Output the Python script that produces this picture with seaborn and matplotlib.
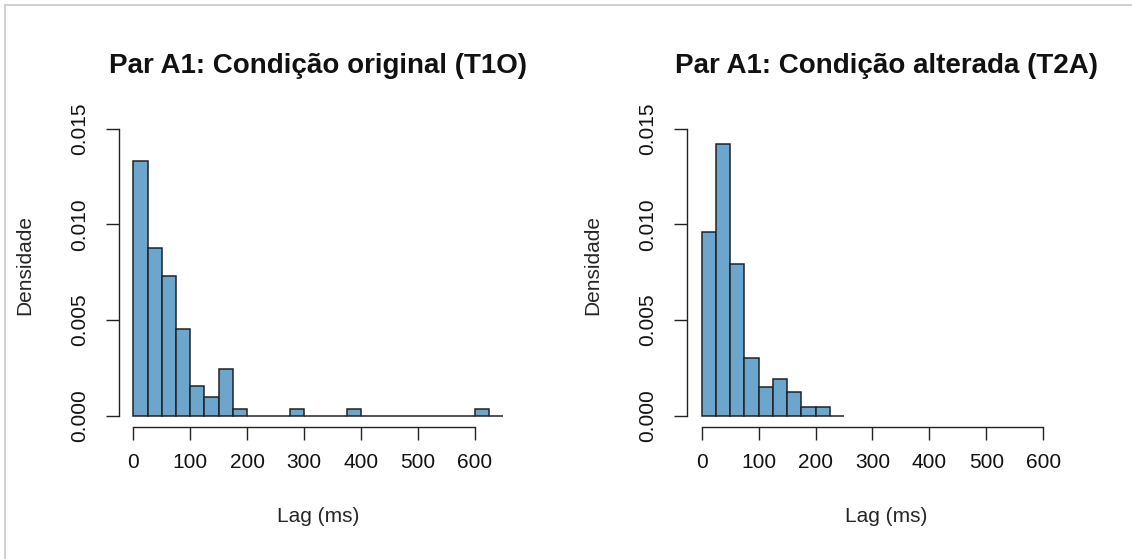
import matplotlib
matplotlib.use("Agg")
import matplotlib.pyplot as plt
from matplotlib.lines import Line2D
import numpy as np
import pandas as pd
import seaborn as sns

# Histogram data: 25 ms bins, density per bin
bin_width = 25
edges_t1o = np.arange(0, 650 + bin_width, bin_width)
dens_t1o = [0.01329, 0.00876, 0.00728, 0.00453, 0.00157, 0.00098, 0.00247, 0.00037,
            0, 0, 0, 0.00037, 0, 0, 0, 0.00037,
            0, 0, 0, 0, 0, 0, 0, 0, 0.00037, 0]

edges_t2a = np.arange(0, 250 + bin_width, bin_width)
dens_t2a = [0.00958, 0.01420, 0.00794, 0.00300, 0.00150, 0.00195, 0.00127, 0.00045,
            0.00045, 0]

titles = ["Par A1: Condição original (T1O)", "Par A1: Condição alterada (T2A)"]
x_ticks = [0, 100, 200, 300, 400, 500, 600]
y_ticks = [0.000, 0.005, 0.010, 0.015]
x_label = "Lag (ms)"
y_label = "Densidade"

bar_color = "#6ca6cd"
line_color = "#222222"

sns.set_theme(style="white")
plt.rcParams["font.family"] = ["Liberation Sans", "DejaVu Sans"]
plt.rcParams["text.color"] = "#111111"

W, H = 1132, 559
fig = plt.figure(figsize=(W / 100, H / 100), dpi=100)
fig.patch.set_facecolor("white")

ax_w = 399.5 / W
ax_h = 310.3 / H
ax_b = (H - 427.4) / H
axes = [fig.add_axes([118.5 / W, ax_b, ax_w, ax_h]),
        fig.add_axes([686.9 / W, ax_b, ax_w, ax_h])]

for ax, edges, dens, title in zip(axes, [edges_t1o, edges_t2a],
                                  [dens_t1o, dens_t2a], titles):
    df = pd.DataFrame({"lag": (edges[:-1] + edges[1:]) / 2, "dens": dens})
    sns.histplot(data=df, x="lag", weights="dens", bins=edges.tolist(), stat="count",
                 color=bar_color, edgecolor=line_color, linewidth=1.1,
                 alpha=1, ax=ax)
    ax.set_xlim(-26, 676)
    ax.set_ylim(-0.0006, 0.0156)

    for side in ("top", "right"):
        ax.spines[side].set_visible(False)
    for side in ("left", "bottom"):
        ax.spines[side].set_color(line_color)
        ax.spines[side].set_linewidth(1.0)
    ax.spines["left"].set_bounds(0, 0.015)
    ax.spines["bottom"].set_bounds(0, 600)

    ax.set_xticks(x_ticks)
    ax.set_xticklabels([str(v) for v in x_ticks])
    ax.set_yticks(y_ticks)
    ax.set_yticklabels([f"{v:.3f}" for v in y_ticks], rotation=90, va="center")
    ax.tick_params(axis="both", direction="out", length=9.5, width=1.0,
                   color=line_color, labelsize=15, labelcolor="#111111",
                   left=True, bottom=True)
    ax.tick_params(axis="x", pad=9)
    ax.tick_params(axis="y", pad=12)

    ax.set_xlabel(x_label, fontsize=15)
    ax.set_ylabel(y_label, fontsize=15)
    ax.xaxis.set_label_coords(0.5, -0.2565)
    ax.yaxis.set_label_coords(-0.2115, 0.523)
    ax.set_title(title, fontsize=20, fontweight="bold", y=1.143, pad=0)
    ax.grid(False)

# thin grey frame along the top and left edges
fig.add_artist(Line2D([5 / W, 5 / W], [0, 1 - 5 / H], transform=fig.transFigure,
                      color="#c8c8c8", linewidth=1.2))
fig.add_artist(Line2D([5 / W, 1], [1 - 5 / H, 1 - 5 / H], transform=fig.transFigure,
                      color="#c8c8c8", linewidth=1.2))

fig.savefig("out.png", dpi=100, facecolor="white")
